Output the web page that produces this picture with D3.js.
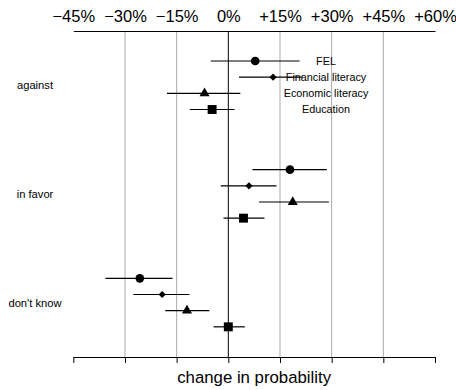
<!DOCTYPE html>
<html>
<head>
<meta charset="utf-8">
<script src="https://cdn.jsdelivr.net/npm/d3@7"></script>
<style>
  body {margin: 0; background: #fff}
  text {font-family: "Liberation Sans", Arial, sans-serif}
</style>
</head>
<body>
<div id="chart"></div>
<script>
// outcome groups (rows) and the four predictors drawn inside each group
var outcomes = ["against", "in favor", "don't know"]
var predictors = ["FEL", "Financial literacy", "Economic literacy", "Education"]
var ticks = [-45, -30, -15, 0, 15, 30, 45, 60]

// point estimates and interval bounds, in %, one row per outcome
var estimate = [
  [7.8, 13.0, -6.9, -4.7],
  [17.9, 6.0, 18.7, 4.4],
  [-25.7, -19.2, -12.0, 0.0]
]
var lower = [
  [-5.1, 3.1, -17.8, -11.2],
  [7.0, -2.2, 8.9, -1.4],
  [-35.7, -27.6, -18.3, -4.3]
]
var upper = [
  [20.7, 21.6, 3.5, 1.8],
  [28.6, 14.0, 29.2, 10.5],
  [-16.2, -11.3, -5.5, 4.8]
]

var width = 456, height = 390
var svg = d3.select("#chart").append("svg")
            .attr("width", width)
            .attr("height", height)

var x = d3.scaleLinear().domain([-45, 60]).range([73.3, 435])
var yGroup = d3.scaleBand().domain(outcomes).range([31, 357])
var yItem = d3.scalePoint().domain(predictors).range([30, 78.5])

var fmt = d => d == 0 ? "0%" : (d > 0 ? "+" : "\u2212") + Math.abs(d) + "%"

// vertical grid lines, zero in black
svg.append("g").selectAll("line")
   .data(ticks.filter(d => d > -45 && d < 60))
   .join("line")
   .attr("x1", d => x(d)).attr("x2", d => x(d))
   .attr("y1", 31).attr("y2", 357)
   .attr("stroke", d => d == 0 ? "#000" : "#aaa")
   .attr("stroke-width", 1)

// top axis: labels only
var topAxis = svg.append("g").attr("transform", "translate(0,31)")
                 .call(d3.axisTop(x).tickValues(ticks).tickFormat(fmt).tickSize(0).tickPadding(9))
topAxis.selectAll("text").attr("font-size", 16.5).attr("font-family", "Liberation Sans, Arial, sans-serif").attr("fill", "#000")
topAxis.select(".domain").attr("stroke", "#000")

// bottom axis: ticks only
var bottomAxis = svg.append("g").attr("transform", "translate(0,357)")
                    .call(d3.axisBottom(x).tickValues(ticks).tickFormat("").tickSize(6).tickSizeOuter(0))
bottomAxis.selectAll("line, path").attr("stroke", "#000")

svg.append("text")
   .attr("x", x(7.5)).attr("y", 383)
   .attr("text-anchor", "middle")
   .attr("font-size", 16.8)
   .text("change in probability")

// row labels
svg.append("g").selectAll("text")
   .data(outcomes)
   .join("text")
   .attr("x", 35)
   .attr("y", d => yGroup(d) + yGroup.bandwidth() / 2)
   .attr("dy", "0.35em")
   .attr("text-anchor", "middle")
   .attr("font-size", 11.2)
   .text(d => d)

var shapes = [
  d3.symbol().type(d3.symbolCircle).size(60),
  d3.symbol().type(d3.symbolSquare).size(26),
  d3.symbol().type(d3.symbolTriangle).size(44),
  d3.symbol().type(d3.symbolSquare).size(80)
]

var rows = []
outcomes.forEach((o, g) => predictors.forEach((p, i) => {
  rows.push({outcome: o, predictor: p, i: i, est: estimate[g][i], lo: lower[g][i], hi: upper[g][i]})
}))
var yPos = d => yGroup(d.outcome) + yItem(d.predictor)

var marks = svg.append("g")
marks.selectAll("line")
     .data(rows)
     .join("line")
     .attr("x1", d => x(d.lo)).attr("x2", d => x(d.hi))
     .attr("y1", yPos).attr("y2", yPos)
     .attr("stroke", "#000")
     .attr("stroke-width", 1.2)

marks.selectAll("path")
     .data(rows)
     .join("path")
     .attr("d", d => shapes[d.i]())
     .attr("transform", d => "translate(" + x(d.est) + "," + yPos(d) + ")" + (d.i == 1 ? " rotate(45)" : ""))
     .attr("fill", "#000")

// legend, written over the first group
svg.append("g").selectAll("text")
   .data(predictors)
   .join("text")
   .attr("x", 326)
   .attr("y", d => yGroup(outcomes[0]) + yItem(d))
   .attr("dy", "0.35em")
   .attr("text-anchor", "middle")
   .attr("font-size", 10.8)
   .text(d => d)
</script>
</body>
</html>
